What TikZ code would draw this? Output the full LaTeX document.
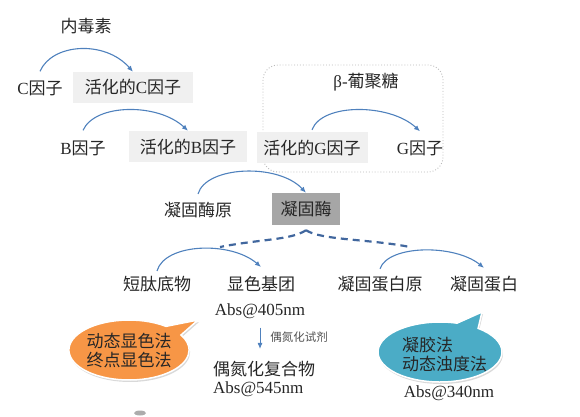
\documentclass[tikz,border=0pt]{standalone}
\usepackage{fontspec}
\setmainfont{Liberation Serif}
\newfontfamily\cjk{Noto Sans CJK SC}
\usetikzlibrary{arrows.meta,shapes.callouts,shadows}
\newcommand\zh[1]{{\cjk #1}}
\definecolor{txt}{HTML}{262626}
\definecolor{lightbox}{HTML}{F0F0F0}
\definecolor{darkbox}{HTML}{A6A6A6}
\definecolor{arrblue}{HTML}{4F81BD}
\definecolor{dashblue}{HTML}{41679E}
\definecolor{orangeb}{HTML}{F79646}
\definecolor{tealb}{HTML}{4BACC6}
\begin{document}
\begin{tikzpicture}[x=1pt,y=-1pt,
  every node/.style={font=\fontsize{17}{24}\selectfont, text=txt, inner sep=4pt},
  lbox/.style={fill=lightbox, minimum height=31pt, inner sep=0pt},
  dbox/.style={fill=darkbox, minimum height=32pt, inner sep=0pt},
  arr/.style={draw=arrblue, line width=1.1pt, -{Latex[length=6pt,width=5pt]}},
  dashln/.style={draw=dashblue, line width=2.2pt, dash pattern=on 7pt off 5pt},
  smalltxt/.style={font=\fontsize{11.5}{14}\selectfont, text=txt!80},
  bubble/.style={ellipse callout, draw=white, line width=1.5pt, inner sep=0pt,
    callout pointer arc=22,
    drop shadow={opacity=0.3, shadow xshift=1pt, shadow yshift=-2pt}},
]
\useasboundingbox (0,0) rectangle (580,416);

% dashed group box
\draw[gray!55, dotted, line width=0.9pt, rounded corners=15pt] (263,65) rectangle (443,172);

\node (endo) at (86,26) {\zh{内毒素}};
\node (C) at (40,88) {C\zh{因子}};
\node[lbox, minimum width=120pt] (actC) at (133,87.5) {\zh{活化的}C\zh{因子}};
\node (B) at (83,148) {B\zh{因子}};
\node[lbox, minimum width=118pt] (actB) at (188,146.5) {\zh{活化的}B\zh{因子}};
\node[lbox, minimum width=111pt] (actG) at (312,147.5) {\zh{活化的}G\zh{因子}};
\node (G) at (420,148) {G\zh{因子}};
\node (beta) at (366,82) {β-\zh{葡聚糖}};
\node (proC) at (198,210) {\zh{凝固酶原}};
\node[dbox, minimum width=68pt] (clot) at (306,209) {\zh{凝固酶}};
\node (sub) at (157,284) {\zh{短肽底物}};
\node (chrom) at (261,284) {\zh{显色基团}};
\node (abs405) at (260,311) {Abs@405nm};
\node[smalltxt] (azo) at (299,337) {\zh{偶氮化试剂}};
\node[anchor=west, inner xsep=0pt] (azoc) at (213,369) {\zh{偶氮化复合物}};
\node[anchor=west, inner xsep=0pt] (abs545) at (213,389) {Abs@545nm};
\node (cogen) at (380,284) {\zh{凝固蛋白原}};
\node (cogin) at (484,284) {\zh{凝固蛋白}};
\node (abs340) at (449,393) {Abs@340nm};

% callout bubbles
\node[bubble, fill=orangeb, minimum width=116pt, minimum height=60pt,
  callout absolute pointer={(198,320)}, align=center] (bubO) at (129,350)
  {\zh{动态显色法}\\[-5pt]\zh{终点显色法}};
\node[bubble, fill=tealb, minimum width=124pt, minimum height=60pt,
  callout absolute pointer={(482,312)}] (bubT) at (440,352) {};
\node[align=left, anchor=west, inner sep=0pt, text=txt] (bubTtxt) at (402,354)
  {\zh{凝胶法}\\[-5pt]\zh{动态浊度法}};

% activation arrows
\draw[arr] ([yshift=5pt]C.north) .. controls +(12,-28) and +(-28,-32) .. (actC.north);
\draw[arr] ([yshift=6pt]B.north) .. controls +(12,-27) and +(-30,-28) .. (actB.north);
\draw[arr] ([yshift=2pt]actG.north) .. controls +(10,-27) and +(-30,-28) .. ([yshift=5pt]G.north);
\draw[arr] ([yshift=4pt]proC.north) .. controls +(8,-28) and +(-28,-30) .. (clot.north);
\draw[arr] ([yshift=1pt]sub.north) .. controls +(8,-28) and +(-30,-26) .. ([yshift=5pt]chrom.north);
\draw[arr] ([yshift=3pt]cogen.north) .. controls +(8,-24) and +(-30,-24) .. ([yshift=4pt]cogin.north);
\draw[arr, line width=0.9pt] (abs405.south) ++(0,-5pt) -- ([yshift=8pt]azoc.north -| abs405.south);

% dashed branches
\coordinate (dl) at (220,247);
\coordinate (dr) at (410,247);
\draw[dashln] ([yshift=-5pt]clot.south) .. controls +(-15,10) and +(40,-8) .. (dl);
\draw[dashln] ([yshift=-5pt]clot.south) .. controls +(15,10) and +(-40,-8) .. (dr);

% partial grey shape at the bottom edge
\fill[gray!65] (140,413) ellipse [x radius=6pt, y radius=2.5pt];
\end{tikzpicture}
\end{document}
